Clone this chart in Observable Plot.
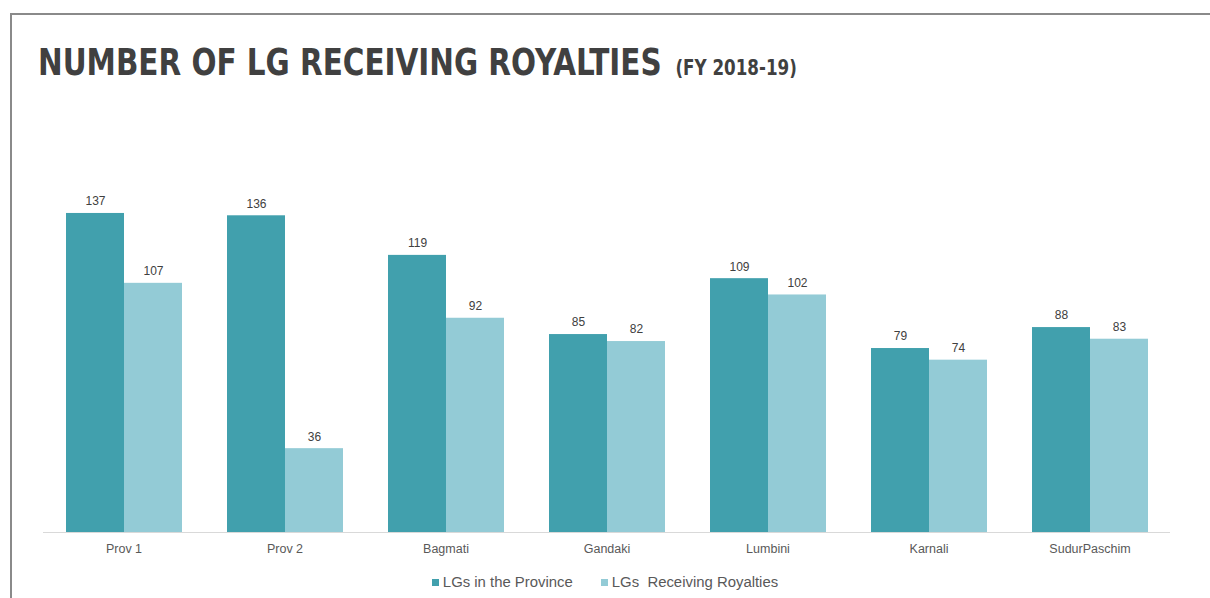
<!DOCTYPE html>
<html>
<head>
<meta charset="utf-8">
<script src="https://cdn.jsdelivr.net/npm/d3@7"></script>
<script src="https://cdn.jsdelivr.net/npm/@observablehq/plot@0.6"></script>
<style>
  html, body { margin: 0; padding: 0; background: #fff; width: 1210px; height: 598px; overflow: hidden; }
  #frame { position: absolute; left: 10px; top: 13px; width: 1210px; height: 600px;
           border-left: 2px solid #8a8a8a; border-top: 2px solid #8a8a8a; }
  #title { position: absolute; left: 38px; top: 41px; white-space: nowrap;
           font-family: "DejaVu Sans Condensed", "Liberation Sans Narrow", sans-serif;
           font-weight: bold; font-size: 37px; color: #404040;
           transform: scaleX(0.885); transform-origin: 0 0; }
  #title small { font-size: 21px; margin-left: 4px; }
  #chart { position: absolute; left: 0; top: 0; }
  #legend { position: absolute; top: 574px; left: 0; width: 1210px; text-align: center;
            font-family: "Liberation Sans", Arial, sans-serif; font-size: 14.9px; color: #595959; }
  #legend span.item { margin: 0 14px; }
  #legend span.sw { display: inline-block; width: 7px; height: 7px; margin-right: 4px; vertical-align: 1px; }
</style>
</head>
<body>
<div id="frame"></div>
<div id="title">NUMBER OF LG RECEIVING ROYALTIES <small>(FY 2018-19)</small></div>
<div id="chart"></div>
<div id="legend"></div>
<script>
const categories = ["Prov 1", "Prov 2", "Bagmati", "Gandaki", "Lumbini", "Karnali", "SudurPaschim"];
const seriesNames = ["LGs in the Province", "LGs  Receiving Royalties"];
const lgsInProvince = [137, 136, 119, 85, 109, 79, 88];
const lgsReceiving = [107, 36, 92, 82, 102, 74, 83];
const colors = ["#41a0ad", "#93cbd6"];

const data = [];
categories.forEach((c, i) => {
  data.push({category: c, series: seriesNames[0], value: lgsInProvince[i]});
  data.push({category: c, series: seriesNames[1], value: lgsReceiving[i]});
});

const chart = Plot.plot({
  width: 1210,
  height: 565,
  marginLeft: 42,
  marginRight: 39,
  marginTop: 159.4,
  marginBottom: 33,
  style: {fontFamily: "'Liberation Sans', Arial, sans-serif", fontSize: "12px", color: "#595959", background: "transparent"},
  fx: {domain: categories, padding: 0, label: null},
  x: {domain: seriesNames, paddingInner: 0, paddingOuter: 0.378, axis: null},
  y: {domain: [0, 160], axis: null},
  color: {domain: seriesNames, range: colors},
  marks: [
    Plot.barY(data, {fx: "category", x: "series", y: "value", fill: "series"}),
    Plot.ruleY([0], {stroke: "#d9d9d9", strokeWidth: 1}),
    Plot.text(data, {fx: "category", x: "series", y: "value", text: d => String(d.value),
      dy: -12, fill: "#404040", fontSize: 12}),
    Plot.axisFx({anchor: "bottom", tickSize: 0, tickPadding: 12, label: null, fontSize: 12.5, fill: "#595959"})
  ]
});
document.getElementById("chart").appendChild(chart);

const legend = document.getElementById("legend");
seriesNames.forEach((s, i) => {
  const item = document.createElement("span");
  item.className = "item";
  const sw = document.createElement("span");
  sw.className = "sw";
  sw.style.background = colors[i];
  item.appendChild(sw);
  const t = document.createElement("span");
  t.style.whiteSpace = "pre";
  t.textContent = s;
  item.appendChild(t);
  legend.appendChild(item);
});
</script>
</body>
</html>
